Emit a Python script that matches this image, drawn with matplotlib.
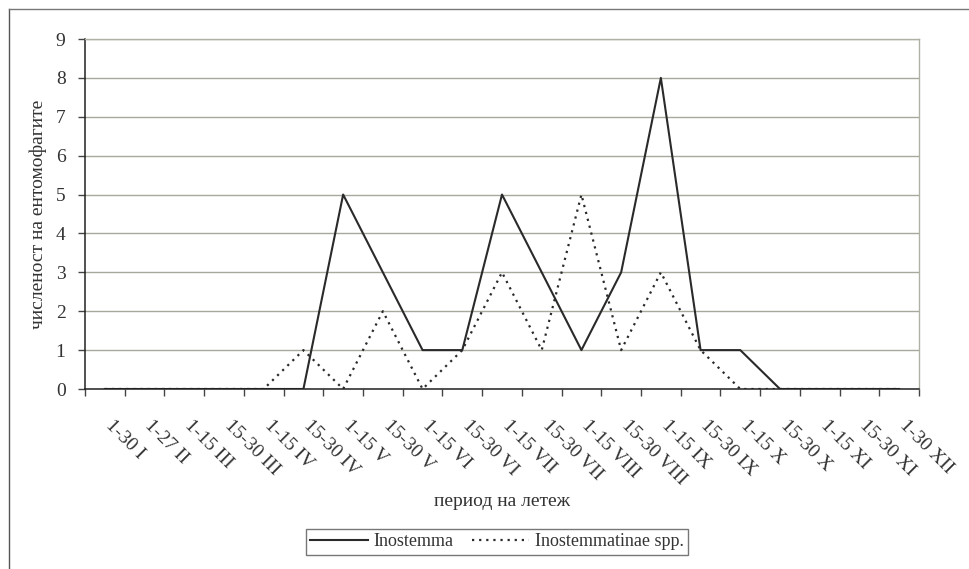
import matplotlib
matplotlib.use("Agg")
import matplotlib.pyplot as plt
from matplotlib.lines import Line2D
from matplotlib.transforms import ScaledTranslation
import numpy as np

periods = ["1-30 I", "1-27 II", "1-15 III", "15-30 III", "1-15 IV", "15-30 IV",
           "1-15 V", "15-30 V", "1-15 VI", "15-30 VI", "1-15 VII", "15-30 VII",
           "1-15 VIII", "15-30 VIII", "1-15 IX", "15-30 IX", "1-15 X", "15-30 X",
           "1-15 XI", "15-30 XI", "1-30 XII"]
inostemma = [0, 0, 0, 0, 0, 0, 5, 3, 1, 1, 5, 3, 1, 3, 8, 1, 1, 0, 0, 0, 0]
inostemmatinae = [0, 0, 0, 0, 0, 1, 0, 2, 0, 1, 3, 1, 5, 1, 3, 1, 0, 0, 0, 0, 0]
series_names = ["Inostemma", "Inostemmatinae spp."]
y_ticks = list(range(0, 10))
y_label = "численост на ентомофагите"
x_label = "период на летеж"

plt.rcParams['font.family'] = ['Liberation Serif', 'DejaVu Serif']

W, H = 970, 569
fig = plt.figure(figsize=(W / 100, H / 100), dpi=100)
fig.patch.set_facecolor('white')

left, right, top, bottom = 85, 919, 39, 389
ax = fig.add_axes([left / W, 1 - bottom / H, (right - left) / W, (bottom - top) / H])

x = np.arange(len(periods))
ax.plot(x, inostemma, color='#2a2a2a', lw=1.5, ls='-', label=series_names[0])
ax.plot(x, inostemmatinae, color='#2a2a2a', lw=1.6, ls=(0, (1, 2.2)), label=series_names[1])

ax.set_xlim(-0.5, len(periods) - 0.5)
ax.set_ylim(0, 9)
ax.set_yticks(y_ticks)
ax.set_yticklabels([str(v) for v in y_ticks], fontsize=14, color='#333333')
ax.set_xticks(np.arange(-0.5, len(periods), 1.0))
ax.set_xticklabels([])
ax.tick_params(axis='both', direction='out', length=5, width=1, color='#444444')
ax.tick_params(axis='y', pad=9)

ax.grid(axis='y', color='#a8a89c', lw=1.0)
ax.set_axisbelow(True)
for s in ['left', 'bottom']:
    ax.spines[s].set_color('#222222')
    ax.spines[s].set_linewidth(1.1)
for s in ['top', 'right']:
    ax.spines[s].set_color('#b0b0a4')
    ax.spines[s].set_linewidth(1.0)

# rotated category labels
offset = ScaledTranslation(9 / 100, -28 / 100, fig.dpi_scale_trans)
trans = ax.get_xaxis_transform() + offset
for i, lab in enumerate(periods):
    ax.text(i, 0, lab, transform=trans, rotation=-45, rotation_mode='anchor',
            ha='left', va='top', fontsize=14, color='#333333')

fig.text((left + right) / 2 / W, 1 - 502 / H, x_label, ha='center', va='center',
         fontsize=14, color='#333333')
fig.text(38 / W, 1 - 214 / H, y_label, rotation=90, ha='center', va='center',
         fontsize=14, color='#333333')

leg = fig.legend(loc='center', bbox_to_anchor=(497 / W, 1 - 542 / H), ncol=2,
                 frameon=True, fancybox=False, edgecolor='#555555', fontsize=13,
                 borderpad=0.25, handletextpad=0.3, columnspacing=1.0,
                 handlelength=3.2)
leg.get_frame().set_linewidth(1.0)
for t in leg.get_texts():
    t.set_color('#333333')

# outer chart border (top and left visible)
fig.add_artist(Line2D([9 / W, 9 / W], [0, 1 - 9 / H], transform=fig.transFigure,
                      color='#555555', lw=1.0))
fig.add_artist(Line2D([9 / W, 1], [1 - 9 / H, 1 - 9 / H], transform=fig.transFigure,
                      color='#777777', lw=1.0))

fig.savefig('out.png', dpi=100, facecolor='white')
